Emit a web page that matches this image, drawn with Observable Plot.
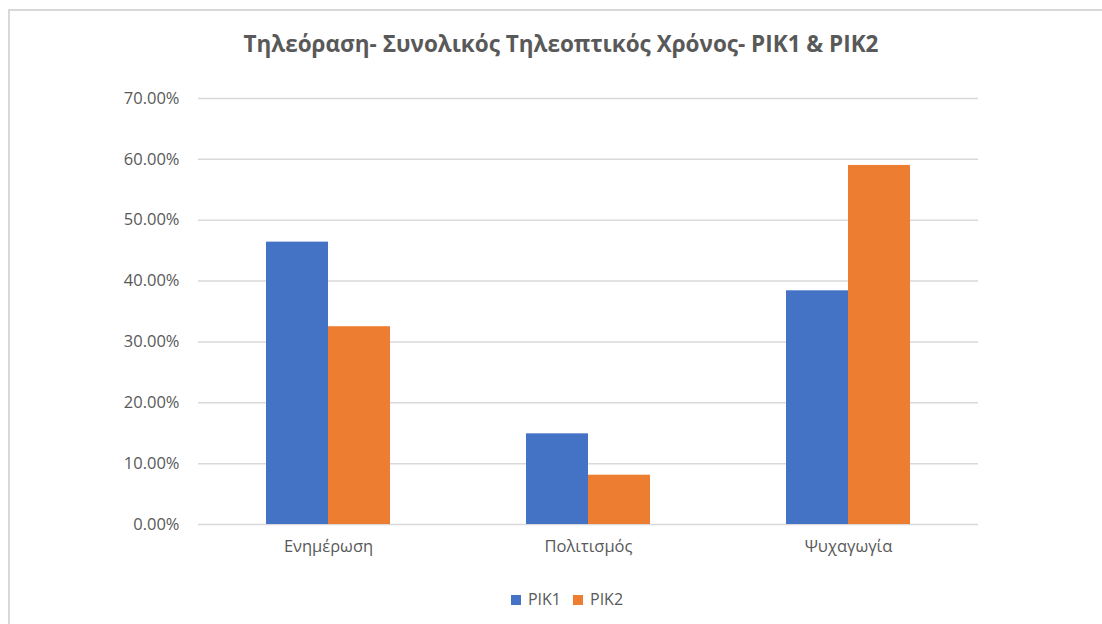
<!DOCTYPE html>
<html>
<head>
<meta charset="utf-8">
<script src="https://cdn.jsdelivr.net/npm/d3@7"></script>
<script src="https://cdn.jsdelivr.net/npm/@observablehq/plot@0.6"></script>
<style>
  html, body { margin: 0; padding: 0; background: #fff; width: 1102px; height: 624px; overflow: hidden; }
  #frame { position: absolute; left: 8px; top: 9px; width: 1094px; height: 615px;
           border-top: 2px solid #d9d9d9; border-left: 2px solid #d9d9d9; box-sizing: border-box; }
  #title { position: absolute; left: 0; width: 1122px; top: 28px; text-align: center;
           font-family: "Open Sans", "Liberation Sans", sans-serif;
           font-weight: bold; font-size: 22.5px; color: #595959; }
  #chart { position: absolute; left: 0; top: 70px; }
  #legend { position: absolute; left: 0; width: 1134px; top: 588px; text-align: center;
            font-family: "Open Sans", "Noto Sans", sans-serif; font-size: 16px; color: #595959; }
  .sw { display: inline-block; width: 10px; height: 10px; margin-right: 7px; vertical-align: 0px; }
  .item { display: inline-block; margin: 0 6px; }
</style>
</head>
<body>
<div id="frame"></div>
<div id="title">Τηλεόραση- Συνολικός Τηλεοπτικός Χρόνος- PIK1 &amp; PIK2</div>
<div id="chart"></div>
<div id="legend"></div>
<script>
const categories = ["Ενημέρωση", "Πολιτισμός", "Ψυχαγωγία"];
const series = ["PIK1", "PIK2"];
const pik1 = [0.464, 0.149, 0.384];
const pik2 = [0.325, 0.081, 0.590];
const colors = ["#4472C4", "#ED7D31"];
const yTicks = [0, 0.1, 0.2, 0.3, 0.4, 0.5, 0.6, 0.7];

const data = [];
categories.forEach((c, i) => {
  data.push({category: c, series: "PIK1", value: pik1[i]});
  data.push({category: c, series: "PIK2", value: pik2[i]});
});

const chart = Plot.plot({
  width: 1102,
  height: 500,
  marginTop: 28,
  marginBottom: 46,
  marginLeft: 197,
  marginRight: 123,
  style: {fontFamily: "'Open Sans', 'Noto Sans', sans-serif", fontSize: "16.5px", color: "#595959", background: "transparent"},
  fx: {domain: categories, padding: 0, label: null, axis: "bottom", tickSize: 0, tickPadding: 16},
  x: {domain: series, paddingInner: 0, paddingOuter: 1.09, axis: null},
  y: {domain: [0, 0.7], ticks: yTicks, tickFormat: d3.format(".2%"), label: null, tickSize: 0, tickPadding: 19},
  color: {domain: series, range: colors},
  marks: [
    Plot.ruleY(yTicks, {stroke: "#d9d9d9", strokeWidth: 1.5}),
    Plot.barY(data, {fx: "category", x: "series", y: "value", fill: "series", inset: 0})
  ]
});
document.getElementById("chart").appendChild(chart);

const legend = document.getElementById("legend");
series.forEach((s, i) => {
  const item = document.createElement("span");
  item.className = "item";
  const sw = document.createElement("span");
  sw.className = "sw";
  sw.style.background = colors[i];
  item.appendChild(sw);
  item.appendChild(document.createTextNode(s));
  legend.appendChild(item);
});
</script>
</body>
</html>
